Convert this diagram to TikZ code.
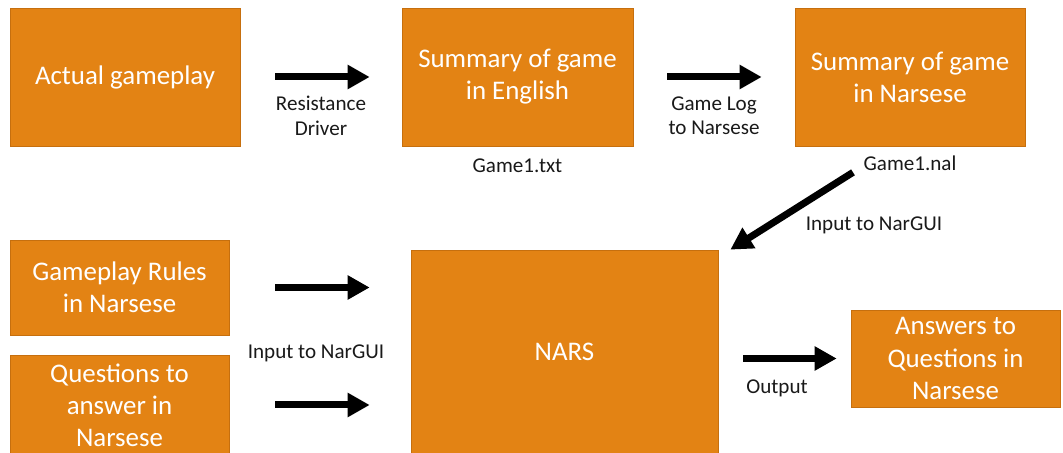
\documentclass[tikz,border=0pt]{standalone}
\usepackage{fontspec}
\setmainfont{Carlito}
\usetikzlibrary{arrows.meta,positioning,calc}
\definecolor{boxorange}{HTML}{E38314}
\definecolor{boxedge}{HTML}{C66F0E}

\begin{document}
\begin{tikzpicture}[
    block/.style={rectangle, draw=boxedge, fill=boxorange, text=white, align=center, font=\fontsize{15.3}{18.3}\selectfont, inner sep=0pt},
    lbl/.style={align=center, text=black!90, font=\fontsize{12}{14.2}\selectfont},
    arrow/.style={-{Triangle[length=0.44cm,width=0.46cm]}, line width=0.14cm}
]

\useasboundingbox (0,0) rectangle (21.26,9.06);
\clip (0,0) rectangle (21.26,9.06);

% Top row
\node[block, minimum width=4.6cm, minimum height=2.76cm] (gameplay) at (2.5,7.52) {Actual gameplay};
\node[block, minimum width=4.62cm, minimum height=2.76cm] (english) at (10.35,7.52) {Summary of game\\in English};
\node[block, minimum width=4.6cm, minimum height=2.76cm] (narsese) at (18.2,7.52) {Summary of game\\in Narsese};

% Bottom row
\node[block, minimum width=4.38cm, minimum height=1.9cm] (rules) at (2.39,3.31) {Gameplay Rules\\in Narsese};
\node[block, minimum width=4.38cm, minimum height=2.0cm] (questions) at (2.39,0.96) {Questions to\\answer in\\Narsese};
\node[block, minimum width=6.14cm, minimum height=4.08cm] (nars) at (11.29,2.02) {NARS};
\node[block, minimum width=4.18cm, minimum height=1.94cm] (answers) at (19.11,1.89) {Answers to\\Questions in\\Narsese};

% File names
\node[lbl, below=0.12cm of english] (txtfile) {Game1.txt};
\node[lbl, below=0.06cm of narsese] (nalfile) {Game1.nal};

% Arrows with labels
\draw[arrow, shorten <=0.7cm, shorten >=0.64cm] (gameplay) -- node[lbl, below=0.2cm] {Resistance\\Driver} (english);
\draw[arrow, shorten <=0.68cm, shorten >=0.66cm] (english) -- node[lbl, below=0.2cm] {Game Log\\to Narsese} (narsese);
\draw[arrow] ([xshift=-1.14cm,yshift=-0.52cm]narsese.south) -- ([xshift=0.24cm]nars.north east);
\node[lbl] (narguitop) at (17.48,4.56) {Input to NarGUI};

\draw[arrow, shorten <=0.92cm, shorten >=0.82cm] (rules.east) -- (rules.east -| nars.west);
\draw[arrow, shorten <=0.92cm, shorten >=0.82cm] (questions.east) -- (questions.east -| nars.west);
\node[lbl] (narguileft) at (6.32,2.0) {Input to NarGUI};

\draw[arrow, shorten <=0.5cm, shorten >=0.28cm] (nars.east |- answers.west) -- (answers.west);
\node[lbl] (output) at (15.54,1.3) {Output};

\end{tikzpicture}
\end{document}
